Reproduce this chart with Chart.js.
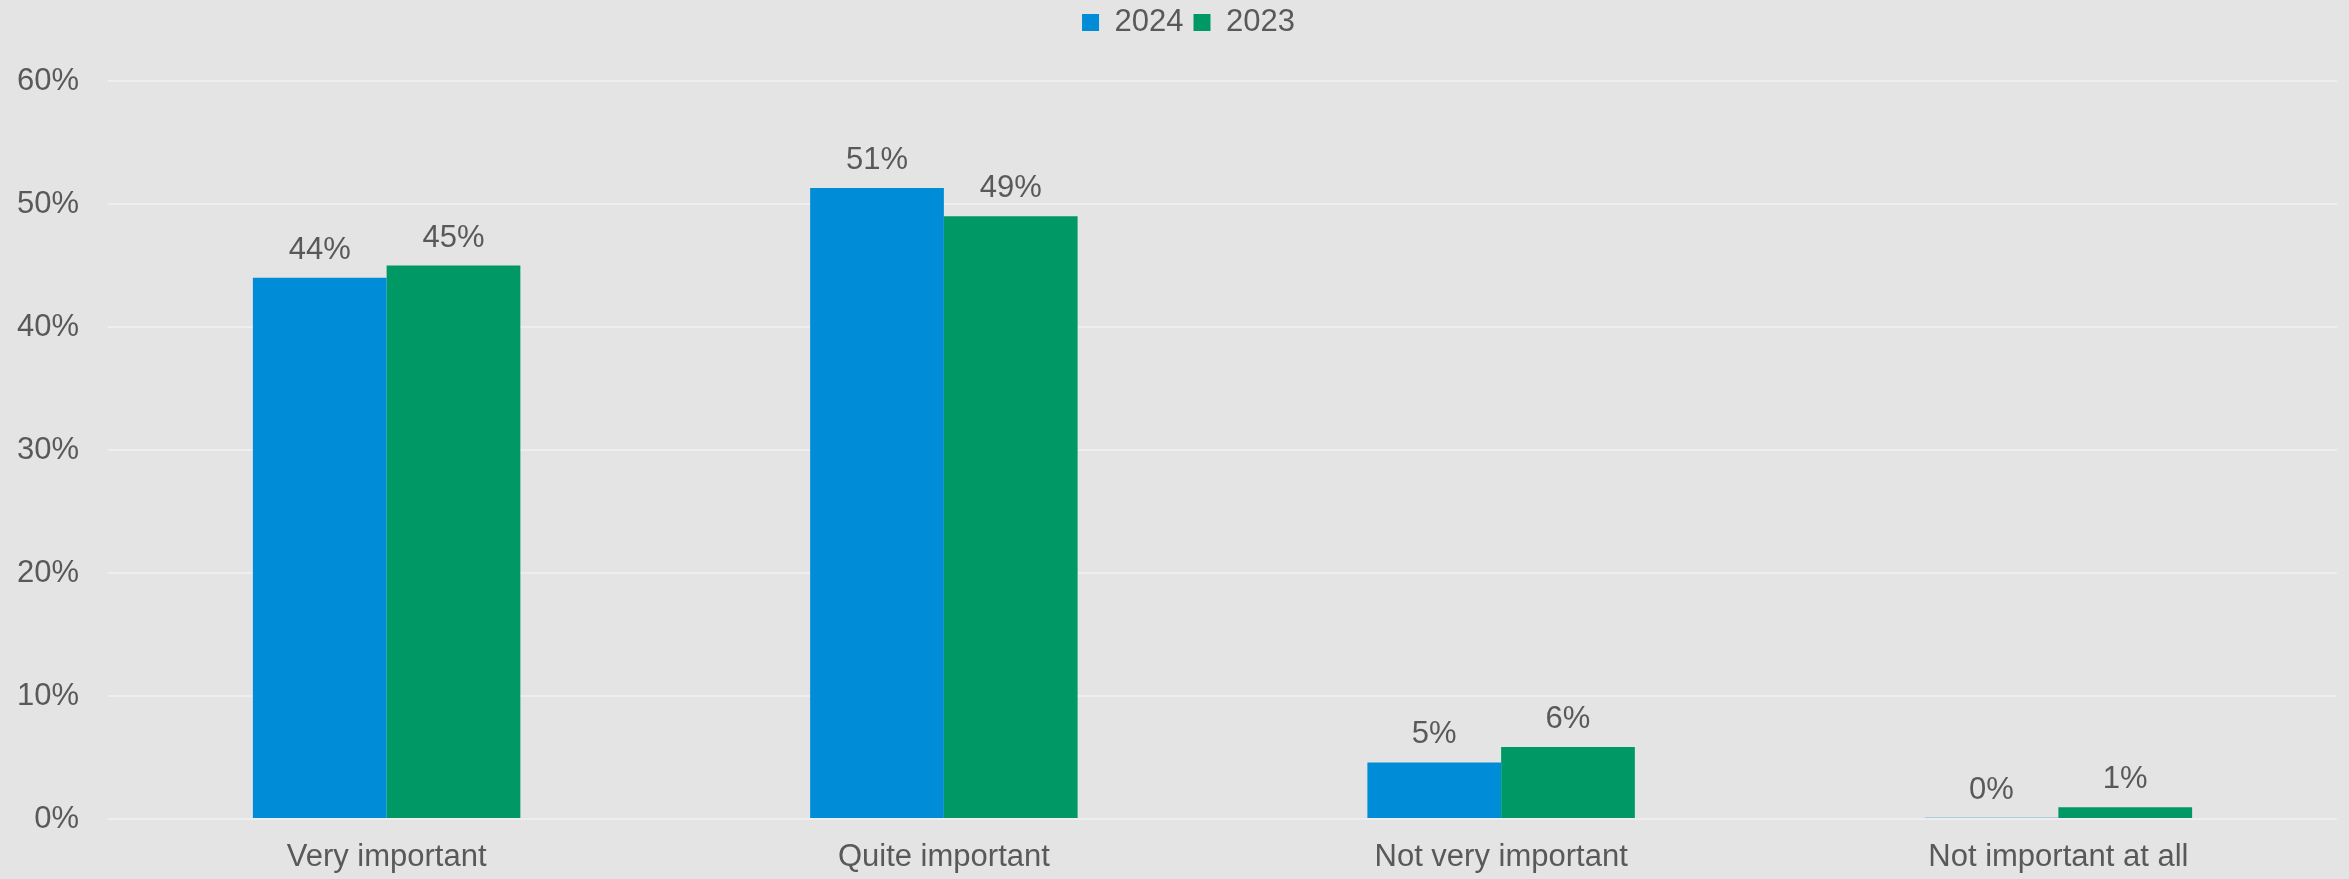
<!DOCTYPE html>
<html>
<head>
<meta charset="utf-8">
<script src="https://cdn.jsdelivr.net/npm/chart.js@4.4.1/dist/chart.umd.min.js"></script>
<style>
  html, body { margin: 0; padding: 0; background: #e4e4e4; }
  #wrap { width: 2349px; height: 879px; }
</style>
</head>
<body>
<div id="wrap"><canvas id="importanceChart"></canvas></div>
<script>
// data
const categories = ["Very important", "Quite important", "Not very important", "Not important at all"];
const values2024 = [44, 51.3, 4.6, 0.1];
const values2023 = [45, 49, 5.85, 0.95];
const yTicks = [0, 10, 20, 30, 40, 50, 60];

const textColor = "#595959";
const fontFamily = "'Liberation Sans', Arial, sans-serif";

// tulis label nilai di atas setiap batang
const barLabels = {
  id: "barLabels",
  afterDatasetsDraw(chart) {
    const ctx = chart.ctx;
    ctx.save();
    ctx.font = "31px " + fontFamily;
    ctx.fillStyle = textColor;
    ctx.textAlign = "center";
    ctx.textBaseline = "alphabetic";
    chart.data.datasets.forEach((ds, i) => {
      chart.getDatasetMeta(i).data.forEach((bar, j) => {
        ctx.fillText(Math.round(ds.data[j]) + "%", bar.x, bar.y - 19);
      });
    });
    ctx.restore();
  },
};

// beri jarak antara legend dan area grafik, geser legend sedikit ke kanan
const legendSpace = {
  id: "legendSpace",
  beforeInit(chart) {
    const fit = chart.legend.fit;
    chart.legend.fit = function () {
      fit.bind(chart.legend)();
      this.height = 84;
    };
  },
  afterLayout(chart) {
    chart.legend.left += 40;
  },
};

const ctx = document.getElementById("importanceChart").getContext("2d");
new Chart(ctx, {
  type: "bar",
  data: {
    labels: categories,
    datasets: [
      { label: "2024", data: values2024, backgroundColor: "#008cd6" },
      { label: "2023", data: values2023, backgroundColor: "#009966" },
    ],
  },
  options: {
    responsive: true,
    maintainAspectRatio: false,
    animation: false,
    layout: { padding: { left: 0, right: 12, top: -3, bottom: 3 } },
    datasets: {
      bar: { barPercentage: 1, categoryPercentage: 0.48 },
    },
    plugins: {
      tooltip: { enabled: false },
      legend: {
        position: "top",
        labels: {
          boxWidth: 17,
          boxHeight: 17,
          padding: 10,
          color: textColor,
          font: { size: 31, family: fontFamily },
        },
      },
    },
    scales: {
      x: {
        afterFit: (scale) => { scale.height = 57; },
        grid: { display: false, drawTicks: false },
        border: { display: false },
        ticks: {
          padding: 20,
          maxRotation: 0,
          color: textColor,
          font: { size: 31, family: fontFamily },
        },
      },
      y: {
        min: 0,
        max: 60,
        afterFit: (scale) => { scale.width = 108; },
        afterBuildTicks: (scale) => { scale.ticks = yTicks.map((v) => ({ value: v })); },
        grid: { color: "#eeeeee", lineWidth: 2, drawTicks: false },
        border: { display: false },
        ticks: {
          padding: 29,
          color: textColor,
          font: { size: 31, family: fontFamily },
          callback: (v) => v + "%",
        },
      },
    },
  },
  plugins: [barLabels, legendSpace],
});
</script>
</body>
</html>
